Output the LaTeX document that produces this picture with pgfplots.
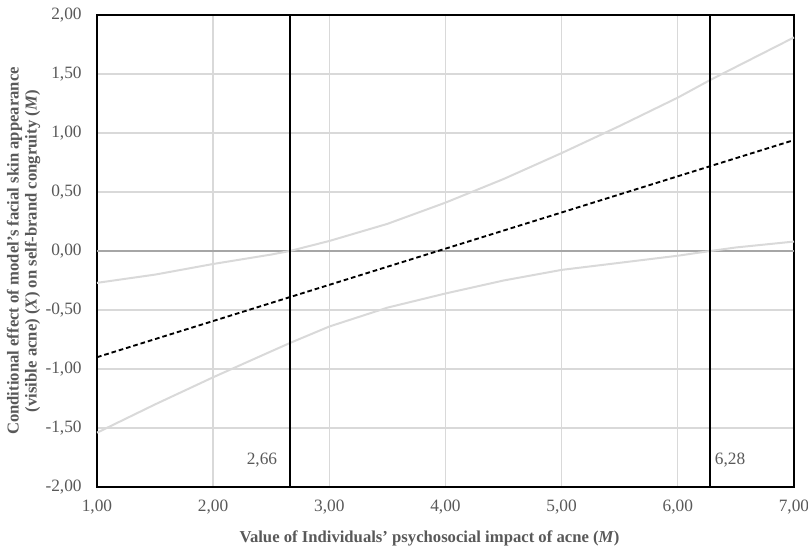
\documentclass[border=0pt]{standalone}
\usepackage{pgfplots}
\pgfplotsset{compat=1.18}
\usepackage{fontspec}
\setmainfont{Liberation Serif}
\definecolor{txt}{HTML}{595959}
\definecolor{gridc}{HTML}{D9D9D9}
\definecolor{zeroc}{HTML}{A6A6A6}
\begin{document}
\begin{tikzpicture}[x=0.75pt,y=0.75pt]
\useasboundingbox (-97,-67) rectangle (711,487);
\begin{axis}[
 at={(0,0)}, anchor=south west,
 scale only axis, width=522.75pt, height=354pt,
 xmin=1, xmax=7, ymin=-2, ymax=2,
 xtick={1,2,3,4,5,6,7},
 ytick={-2,-1.5,-1,-0.5,0,0.5,1,1.5,2},
 grid=major, major grid style={gridc, line width=1pt},
 major tick length=0pt,
 axis line style={black, line width=1.5pt},
 tick label style={font=\fontsize{13}{14}\selectfont, text=txt},
 xticklabel style={yshift=-6.5pt},
 yticklabel style={xshift=-8pt},
 /pgf/number format/fixed,
 /pgf/number format/fixed zerofill,
 /pgf/number format/precision=2,
 /pgf/number format/use comma,
 /pgf/number format/assume math mode=true,
 xlabel={\textbf{Value of Individuals’ psychosocial impact of acne (\textit{M})}},
 ylabel={\textbf{Conditional effect of model’s facial skin appearance}\\\textbf{(visible acne) (\textit{X}) on self-brand congruity (\textit{M})}},
 label style={font=\fontsize{12.5}{13.5}\selectfont, text=txt},
 ylabel style={align=center, yshift=-3pt},
 xlabel style={yshift=-5pt, xshift=-12pt},
 clip=false,
]
\addplot[zeroc, line width=1.3pt, forget plot] coordinates {(1,0) (7,0)};
\addplot[gridc, line width=1.5pt] coordinates {
 (1,-0.27) (1.5,-0.20) (2,-0.11) (2.5,-0.03) (2.66,0) (3,0.085) (3.5,0.23) (4,0.41) (4.5,0.61) (5,0.83) (5.5,1.06) (6,1.30) (6.28,1.45) (6.5,1.56) (7,1.81)};
\addplot[gridc, line width=1.5pt] coordinates {
 (1,-1.54) (1.5,-1.30) (2,-1.07) (2.5,-0.85) (2.66,-0.78) (3,-0.64) (3.5,-0.48) (4,-0.36) (4.5,-0.25) (5,-0.16) (5.5,-0.10) (6,-0.04) (6.28,0) (6.5,0.03) (7,0.08)};
\addplot[black, line width=1.4pt, dash pattern=on 3.5pt off 2.2pt] coordinates {(1,-0.90) (7,0.94)};
\addplot[black, line width=1.5pt] coordinates {(2.66,-2) (2.66,2)};
\addplot[black, line width=1.5pt] coordinates {(6.28,-2) (6.28,2)};
\node[text=txt, font=\fontsize{13}{14}\selectfont] at (axis cs:2.42,-1.77) {2,66};
\node[text=txt, font=\fontsize{13}{14}\selectfont] at (axis cs:6.45,-1.77) {6,28};
\end{axis}
\end{tikzpicture}
\end{document}
